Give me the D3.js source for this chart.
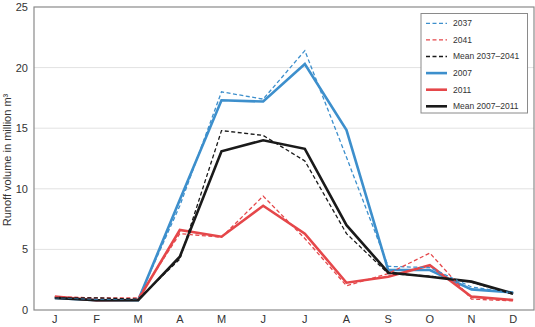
<!DOCTYPE html>
<html><head><meta charset="utf-8">
<script src="https://cdn.jsdelivr.net/npm/d3@7"></script>
<style>body{margin:0;background:#fff}svg{display:block}text{font-family:"Liberation Sans",Arial,sans-serif}</style>
</head><body><svg id="c" width="535" height="327"></svg>
<script>
const months = ["J","F","M","A","M","J","J","A","S","O","N","D"];
const yTicks = [0,5,10,15,20,25];
const s2037 = [1.0,0.9,0.9,8.6,18.0,17.4,21.4,12.6,3.6,3.5,1.9,1.4];
const s2041 = [1.1,1.0,1.0,6.3,6.0,9.4,5.9,2.0,3.0,4.7,0.9,0.75];
const sMean3741 = [1.0,1.0,0.9,4.2,14.8,14.4,12.3,6.3,3.0,2.8,2.3,1.3];
const s2007 = [1.0,0.8,0.8,9.1,17.3,17.2,20.3,14.85,3.3,3.3,1.7,1.45];
const s2011 = [1.1,0.8,0.85,6.6,6.05,8.6,6.3,2.25,2.75,3.7,1.1,0.82];
const sMean0711 = [1.0,0.8,0.8,4.4,13.1,14.0,13.3,7.0,3.1,2.75,2.34,1.35];
const seriesNames = ["2037","2041","Mean 2037\u20132041","2007","2011","Mean 2007\u20132011"];

const series = [
  {name:seriesNames[0], v:s2037, c:"#3d8fcc", dash:"4,2.5", w:1.3},
  {name:seriesNames[1], v:s2041, c:"#e5474a", dash:"4,2.5", w:1.3},
  {name:seriesNames[2], v:sMean3741, c:"#1a1a1a", dash:"4,2.5", w:1.3},
  {name:seriesNames[3], v:s2007, c:"#3d8fcc", dash:null, w:2.6},
  {name:seriesNames[4], v:s2011, c:"#e5474a", dash:null, w:2.6},
  {name:seriesNames[5], v:sMean0711, c:"#1a1a1a", dash:null, w:2.6}
];

const svg = d3.select("#c");
const L=34, R=534, T=7, B=310;
const x = d3.scaleBand().domain(d3.range(12)).range([L,R]);
const xc = i => x(i)+x.bandwidth()/2;
const y = d3.scaleLinear().domain([0,25]).range([B,T]);

svg.append("g").selectAll("line").data(yTicks.filter(t=>t>0&&t<25)).join("line")
  .attr("x1",L).attr("x2",R).attr("y1",d=>y(d)).attr("y2",d=>y(d))
  .attr("stroke","#e2e2e2").attr("stroke-width",1);

svg.append("rect").attr("x",L).attr("y",T).attr("width",R-L).attr("height",B-T)
  .attr("fill","none").attr("stroke","#8a8a8a").attr("stroke-width",1.2);

const ya = svg.append("g").attr("transform",`translate(${L},0)`)
  .call(d3.axisLeft(y).tickValues(yTicks).tickSize(0).tickPadding(6));
ya.select(".domain").remove();
ya.selectAll("text").attr("font-size",11).attr("fill","#333").style("font-family","Liberation Sans, Arial, sans-serif");

const xa = svg.append("g").attr("transform",`translate(0,${B})`)
  .call(d3.axisBottom(x).tickFormat(i=>months[i]).tickSize(0).tickPadding(5));
xa.select(".domain").remove();
xa.selectAll("text").attr("font-size",11).attr("fill","#333").style("font-family","Liberation Sans, Arial, sans-serif");

svg.append("text").attr("transform","translate(10.5,160) rotate(-90)")
  .attr("text-anchor","middle").attr("font-size",11).attr("fill","#333")
  .text("Runoff volume in million m\u00b3");

const line = d3.line().x((d,i)=>xc(i)).y(d=>y(d));
const order = [3,4,5,0,1,2];
order.forEach(k=>{
  const s=series[k];
  svg.append("path").datum(s.v).attr("d",line).attr("fill","none")
    .attr("stroke",s.c).attr("stroke-width",s.w).attr("stroke-linejoin","miter")
    .attr("stroke-dasharray",s.dash);
});

const lg = svg.append("g");
lg.append("rect").attr("x",421).attr("y",13.5).attr("width",106.5).attr("height",99.5)
  .attr("fill","#fff").attr("stroke","#8a8a8a").attr("stroke-width",1);
series.forEach((s,i)=>{
  const yy = 23.3 + i*16.6;
  lg.append("line").attr("x1",426).attr("x2",447).attr("y1",yy).attr("y2",yy)
    .attr("stroke",s.c).attr("stroke-width",s.dash?1.3:2.6).attr("stroke-dasharray",s.dash);
  lg.append("text").attr("x",453).attr("y",yy).attr("dy","0.35em")
    .attr("font-size",8.5).attr("fill","#333").text(s.name);
});
</script></body></html>
